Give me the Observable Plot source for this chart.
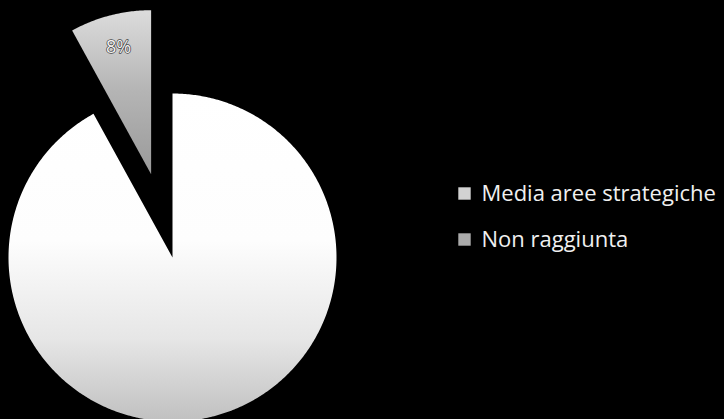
<!DOCTYPE html>
<html><head><meta charset="utf-8">
<script src="https://cdn.jsdelivr.net/npm/d3@7"></script>
<script src="https://cdn.jsdelivr.net/npm/@observablehq/plot@0.6"></script>
<style>
html,body{margin:0;padding:0;background:#000;overflow:hidden}
#chart{width:724px;height:419px;overflow:hidden}
</style></head>
<body><div id="chart"></div>
<script>
// Data
const categories = ["Media aree strategiche", "Non raggiunta"];
const values = [92, 8];
const sliceLabels = ["", "8%"];

// Layout (pixels)
const W = 724, H = 419;
const cx = 172, cy = 257, R = 164;
const explode = [0, 86];
const fills = ["url(#gBig)", "url(#gSmall)"];
const legendFills = ["#d2d2d2", "#ababab"];
const legendX = 464, legendY0 = 193, legendStep = 46;

const rows = categories.map((c, i) => ({category: c, value: values[i], i, label: sliceLabels[i]}));
const arcs = d3.pie().sort(null).value(d => d.value)(rows);

const polys = [];
const labelPts = [];
arcs.forEach(a => {
  const i = a.data.i;
  const mid = (a.startAngle + a.endAngle) / 2;
  const ox = cx + explode[i] * Math.sin(mid), oy = cy - explode[i] * Math.cos(mid);
  const n = Math.max(4, Math.ceil((a.endAngle - a.startAngle) / 0.01));
  const pts = [{x: ox, y: oy}];
  for (let j = 0; j <= n; j++) {
    const t = a.startAngle + (a.endAngle - a.startAngle) * j / n;
    pts.push({x: ox + R * Math.sin(t), y: oy - R * Math.cos(t)});
  }
  pts.push({x: ox, y: oy});
  polys.push(pts);
  if (a.data.label) labelPts.push({x: ox + 0.8 * R * Math.sin(mid), y: oy - 0.8 * R * Math.cos(mid), text: a.data.label});
});

const legend = rows.map(r => ({x: legendX, y: legendY0 + r.i * legendStep, category: r.category, fill: legendFills[r.i]}));

const svg = Plot.plot({
  width: W, height: H,
  margin: 0,
  x: {domain: [0, W], range: [0, W], axis: null},
  y: {domain: [0, H], range: [0, H], axis: null},
  style: {background: "#000", overflow: "hidden"},
  marks: [
    ...polys.map((pts, i) => Plot.line(pts, {x: "x", y: "y", fill: fills[i], stroke: "none", curve: "linear-closed", clip: true})),
    Plot.text(labelPts, {x: "x", y: "y", text: "text", fill: "#f2f2f2", stroke: "#444", strokeWidth: 1.5, fontSize: 18, fontFamily: "Open Sans"}),
    Plot.dot(legend, {x: "x", y: "y", symbol: "square", r: 7, fill: "fill", stroke: "none"}),
    Plot.text(legend, {x: "x", y: "y", text: "category", dx: 17, textAnchor: "start", fill: "#f0f0f0", fontSize: 22, fontFamily: "Open Sans"})
  ]
});

const defs = d3.select(svg).insert("defs", ":first-child");
const gb = defs.append("linearGradient").attr("id", "gBig").attr("x1", 0).attr("y1", 0).attr("x2", 0).attr("y2", 1);
[[0, "#ffffff"], [0.45, "#fdfdfd"], [0.75, "#e6e6e6"], [1, "#c0c0c0"]].forEach(([o, c]) => gb.append("stop").attr("offset", o).attr("stop-color", c));
const gs = defs.append("linearGradient").attr("id", "gSmall").attr("x1", 0).attr("y1", 0).attr("x2", 0).attr("y2", 1);
[[0, "#dcdcdc"], [0.5, "#b4b4b4"], [1, "#9a9a9a"]].forEach(([o, c]) => gs.append("stop").attr("offset", o).attr("stop-color", c));

document.getElementById("chart").appendChild(svg);
</script>
</body></html>
